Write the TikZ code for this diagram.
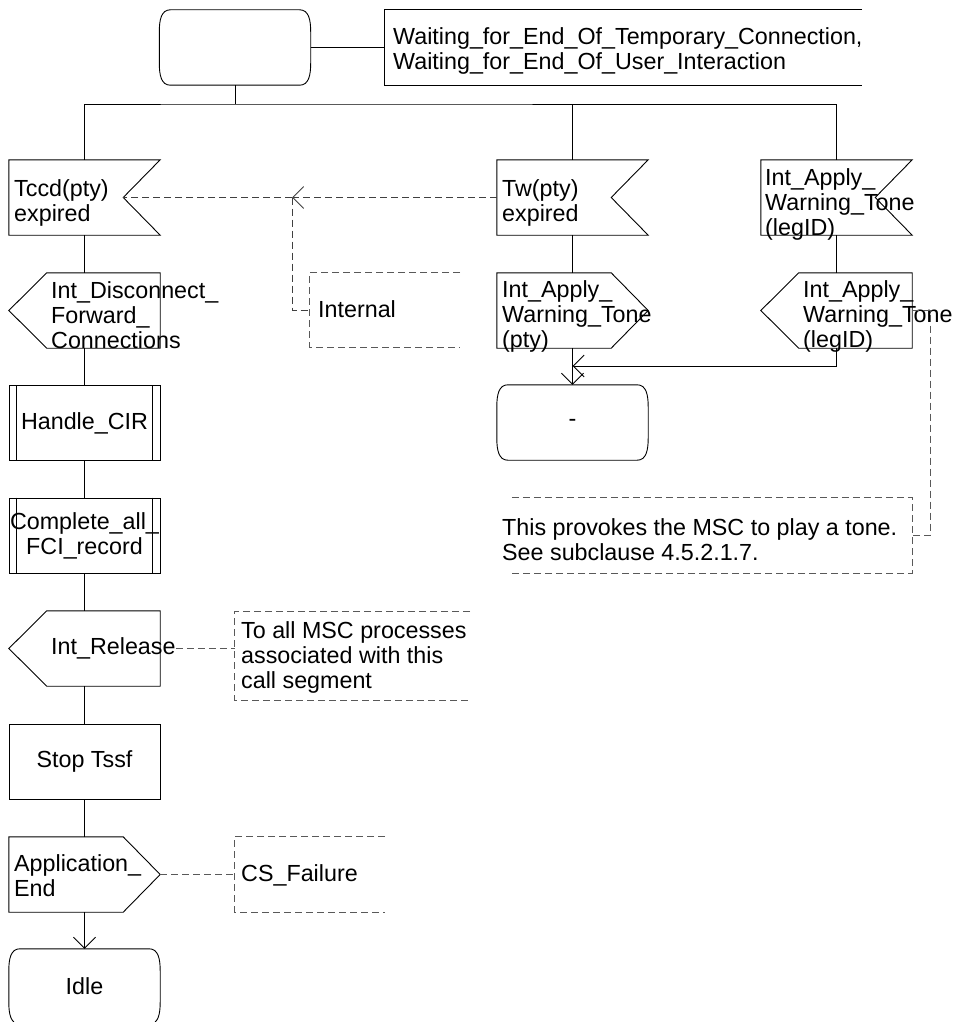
\documentclass[tikz,border=0pt]{standalone}
\usepackage{fontspec}
\setmainfont{Liberation Sans}
\usetikzlibrary{arrows.meta,calc}
\newcommand{\sdlinput}[1]{\draw[sym] (#1.north west) -- (#1.north east) -- ($(#1.east)+(-37,0)$) -- (#1.south east) -- (#1.south west) -- cycle;}
\newcommand{\sdloutright}[1]{\draw[sym] (#1.north west) -- ($(#1.north east)+(-37,0)$) -- (#1.east) -- ($(#1.south east)+(-37,0)$) -- (#1.south west) -- cycle;}
\newcommand{\sdloutleft}[1]{\draw[sym] ($(#1.north west)+(38,0)$) -- (#1.north east) -- (#1.south east) -- ($(#1.south west)+(38,0)$) -- (#1.west) -- cycle;}
\newcommand{\sdlproc}[1]{\draw[sym] ($(#1.north west)+(8,0)$) -- ($(#1.south west)+(8,0)$) ($(#1.north east)+(-8,0)$) -- ($(#1.south east)+(-8,0)$);}
\newcommand{\sdlstate}[1]{\draw[sym]
  ($(#1.north west)+(11,0)$) -- ($(#1.north east)+(-11,0)$)
  .. controls ($(#1.north east)+(-2,0)$) and ($(#1.north east)+(0,10)$) .. ($(#1.north east)+(0,22)$)
  -- ($(#1.south east)+(0,-22)$)
  .. controls ($(#1.south east)+(0,-10)$) and ($(#1.south east)+(-2,0)$) .. ($(#1.south east)+(-11,0)$)
  -- ($(#1.south west)+(11,0)$)
  .. controls ($(#1.south west)+(2,0)$) and ($(#1.south west)+(0,-10)$) .. ($(#1.south west)+(0,-22)$)
  -- ($(#1.north west)+(0,22)$)
  .. controls ($(#1.north west)+(0,10)$) and ($(#1.north west)+(2,0)$) .. cycle;}
\begin{document}
\begin{tikzpicture}[x=1pt,y=-1pt,
  every node/.style={font=\fontsize{23.3}{25}\selectfont, inner sep=0pt},
  frame/.style={rectangle, minimum width=151pt, minimum height=75pt, draw=none},
  sym/.style={draw=black, line width=0.9pt},
  tasksym/.style={frame, draw=black, line width=0.9pt},
  lbl/.style={anchor=west, align=left},
  flow/.style={draw=black, line width=0.9pt},
  note/.style={draw=black!65, line width=0.9pt, dash pattern=on 7pt off 4pt},
  arr/.style={-{Straight Barb[length=11pt,width=22pt,line width=0.9pt]}},
]
\useasboundingbox (0,0) rectangle (959,1022);

% ---------- top state and its comment ----------
\node[frame] (s0) at (235,47.5) {};
\sdlstate{s0}
\node[frame, minimum width=477pt] (c0) at (623.5,47.5) {};
\draw[sym] (c0.north east) -- (c0.north west) -- (c0.south west) -- (c0.south east);
\node[lbl] (c0t) at (393,50.5) {Waiting\_for\_End\_Of\_Temporary\_Connection,\\Waiting\_for\_End\_Of\_User\_Interaction};
\draw[flow] (s0.east) -- (c0.west);

% ---------- left column ----------
\node[frame] (tccd) at (84.5,197.5) {};
\sdlinput{tccd}
\node[lbl] (tccdt) at (14,202.5) {Tccd(pty)\\expired};

\node[frame] (disc) at (84.5,310.5) {};
\sdloutleft{disc}
\node[lbl] (disct) at (51,315) {Int\_Disconnect\_\\Forward\_\\Connections};

\node[tasksym] (hcir) at (84.5,423) {Handle\_CIR};
\sdlproc{hcir}

\node[tasksym, align=center] (cafr) at (84.5,535.5) {Complete\_all\_\\FCI\_record};
\sdlproc{cafr}

\node[frame] (irel) at (84.5,648.5) {};
\sdloutleft{irel}
\node[lbl] (irelt) at (51,648) {Int\_Release};

\node[tasksym] (stop) at (84.5,761.5) {Stop Tssf};

\node[frame] (apend) at (84.5,874.5) {};
\sdloutright{apend}
\node[lbl] (apendt) at (14,876) {Application\_\\End};

\node[frame] (idle) at (84.5,986.5) {Idle};
\sdlstate{idle}

% ---------- middle column ----------
\node[frame] (twin) at (572.5,197.5) {};
\sdlinput{twin}
\node[lbl] (twint) at (502,202.5) {Tw(pty)\\expired};

\node[frame] (iawt) at (572.5,310.5) {};
\sdloutright{iawt}
\node[lbl] (iawtt) at (502,316.5) {Int\_Apply\_\\Warning\_Tone\\(pty)};

\node[frame] (dash) at (572.5,422.5) {-};
\sdlstate{dash}

% ---------- right column ----------
\node[frame] (lgin) at (836.5,197.5) {};
\sdlinput{lgin}
\node[lbl] (lgint) at (765,204) {Int\_Apply\_\\Warning\_Tone\\(legID)};

\node[frame] (lgout) at (836.5,310.5) {};
\sdloutleft{lgout}
\node[lbl] (lgoutt) at (803,316.5) {Int\_Apply\_\\Warning\_Tone\\(legID)};

% ---------- comments ----------
\node[frame, minimum width=150pt, minimum height=74pt] (cint) at (385,310) {};
\draw[note] (cint.north east) -- (cint.north west) -- (cint.south west) -- (cint.south east);
\node[lbl] (cintt) at (318,309.5) {Internal};

\node[frame, minimum width=235pt, minimum height=88pt] (crel) at (352.5,656) {};
\draw[note] (crel.north east) -- (crel.north west) -- (crel.south west) -- (crel.south east);
\node[lbl] (crelt) at (241,657) {To all MSC processes\\associated with this\\call segment};

\node[frame, minimum width=150pt] (ccsf) at (310,874.5) {};
\draw[note] (ccsf.north east) -- (ccsf.north west) -- (ccsf.south west) -- (ccsf.south east);
\node[lbl] (ccsft) at (241,875) {CS\_Failure};

\node[frame, minimum width=400pt] (ctone) at (712,535.5) {};
\draw[note] (ctone.north west) -- (ctone.north east) -- (ctone.south east) -- (ctone.south west);
\node[lbl] (ctonet) at (502,540) {This provokes the MSC to play a tone.\\See subclause 4.5.2.1.7.};

% ---------- flow lines ----------
\coordinate (bus) at (235,104);
\draw[flow] (s0.south) -- (bus);
\draw[flow] (tccd.north) |- (bus) -| (lgin.north);
\draw[flow] (twin.north) -- (twin.north |- bus);

\draw[flow] (tccd.south) -- (disc.north);
\draw[flow] (disc.south) -- (hcir.north);
\draw[flow] (hcir.south) -- (cafr.north);
\draw[flow] (cafr.south) -- (irel.north);
\draw[flow] (irel.south) -- (stop.north);
\draw[flow] (stop.south) -- (apend.north);
\draw[flow, arr] (apend.south) -- (idle.north);

\draw[flow] (twin.south) -- (iawt.north);
\draw[flow, arr] (iawt.south) -- (dash.north);
\coordinate (join) at (572.5,366);
\draw[flow] (lgin.south) -- (lgout.north);
\draw[flow, arr] (lgout.south) |- (join);

% ---------- internal signal ----------
\coordinate (tccdn) at ($(tccd.east)+(-37,0)$);
\coordinate (sigmid) at (292,197.5);
\draw[note, draw=black!75, arr] (twin.west) -- (sigmid);
\draw[note, draw=black!75] (sigmid) -- (tccdn);
\draw[note, draw=black!75] (sigmid) |- (cint.west);

% ---------- comment connectors ----------
\draw[note] (irelt.east) -- (irelt.east -| crel.west);
\draw[note] (apend.east) -- (ccsf.west);
\draw[note] (lgout.east) -- ($(lgout.east)+(18,0)$) |- (ctone.east);
\end{tikzpicture}
\end{document}
